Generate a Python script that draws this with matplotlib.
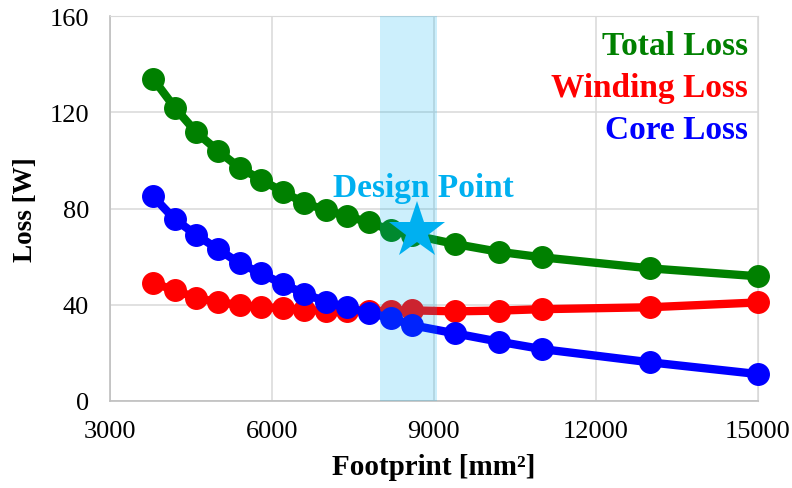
import matplotlib
matplotlib.use("Agg")
import matplotlib.pyplot as plt

plt.rcParams['font.family'] = ['Liberation Serif', 'DejaVu Serif']

# Footprint sweep [mm^2]
footprint = [3800, 4200, 4600, 5000, 5400, 5800, 6200, 6600, 7000, 7400,
             7800, 8200, 8600, 9400, 10200, 11000, 13000, 15000]
# Losses [W]
total_loss = [134, 122, 111.7, 104, 97, 92, 87, 82.3, 79.3, 76.8,
              74.2, 71, 69, 65.2, 62, 59.7, 55.1, 51.8]
winding_loss = [49, 46, 42.8, 41, 39.9, 39, 38.5, 37.8, 37.4, 37.3,
                37.3, 37.5, 37.6, 37.2, 37.5, 38.1, 38.9, 40.9]
core_loss = [85, 75.5, 69, 63.1, 57.2, 53, 48.6, 44.6, 41.2, 38.8,
             36.5, 34.5, 31.4, 28, 24.6, 21.5, 16, 11.1]

design_band = (8000, 9050)
design_x, design_y = 8680, 70.5
design_label_x, design_label_y = 8810, 85.3

x_ticks = [3000, 6000, 9000, 12000, 15000]
y_ticks = [0, 40, 80, 120, 160]

GREEN, RED, BLUE, CYAN = '#008000', '#FF0000', '#0000FF', '#00B0F0'

fig = plt.figure(figsize=(7.92, 4.89), dpi=100)
ax = fig.add_axes([0.1389, 0.1785, 0.8178, 0.7861])

ax.set_xlim(3000, 15000)
ax.set_ylim(0, 160)
ax.set_xticks(x_ticks)
ax.set_yticks(y_ticks)
ax.grid(True, color='#D9D9D9', linewidth=1.1, zorder=0)
ax.set_axisbelow(True)
for side in ['top', 'right']:
    ax.spines[side].set_color('#D9D9D9')
for side in ['left', 'bottom']:
    ax.spines[side].set_color('#BFBFBF')
    ax.spines[side].set_linewidth(1.2)
ax.tick_params(length=0, labelsize=19)
ax.tick_params(axis='y', pad=15)
ax.tick_params(axis='x', pad=14)

line_kw = dict(marker='o', linewidth=6, markersize=15.5, clip_on=False, zorder=3)
ax.plot(footprint, total_loss, color=GREEN, **line_kw)
ax.plot(footprint, winding_loss, color=RED, **line_kw)
ax.plot(footprint, core_loss, color=BLUE, **line_kw)

# Design region
ax.axvspan(*design_band, color=CYAN, alpha=0.2, linewidth=0, zorder=4)
ax.plot([design_x], [design_y], marker='*', color=CYAN, markersize=43,
        markeredgewidth=0, linestyle='none', zorder=5)
ax.text(design_label_x, design_label_y, 'Design Point', color=CYAN, fontsize=24,
        fontweight='bold', ha='center', va='baseline', zorder=6)

# Series labels
labels = [('Total Loss', GREEN), ('Winding Loss', RED), ('Core Loss', BLUE)]
for i, (name, col) in enumerate(labels):
    ax.text(0.985, 0.925 - i * 0.11, name, color=col, fontsize=24,
            fontweight='bold', ha='right', va='center', transform=ax.transAxes)

ax.set_xlabel('Footprint [mm²]', fontsize=21, fontweight='bold', labelpad=8)
ax.set_ylabel('Loss [W]', fontsize=19.5, fontweight='bold', labelpad=8)

fig.savefig('out.png', dpi=100)
